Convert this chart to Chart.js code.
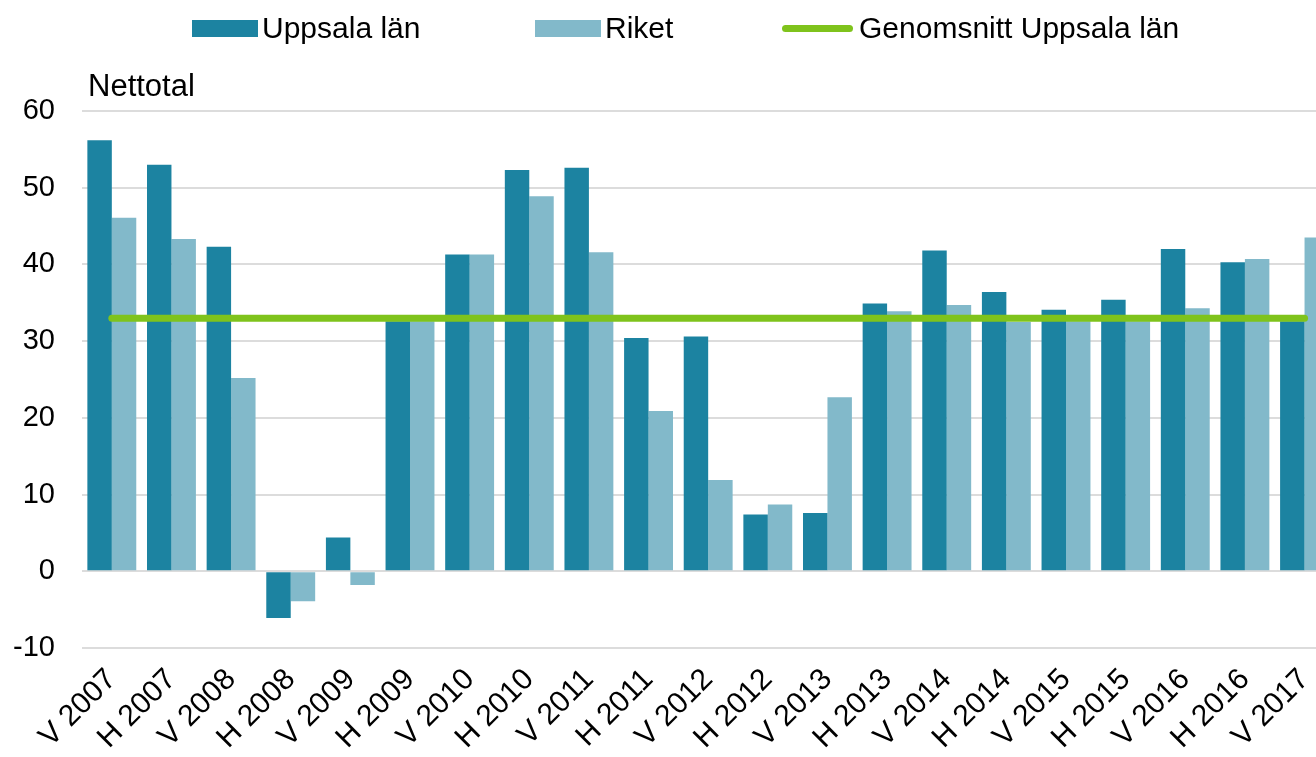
<!DOCTYPE html>
<html>
<head>
<meta charset="utf-8">
<script src="https://cdn.jsdelivr.net/npm/chart.js@4"></script>
<style>
  html, body { margin: 0; padding: 0; background: #fff; overflow: hidden; }
  #wrap { position: relative; width: 1336px; height: 757px; }
  #legend {
    position: absolute; top: 10px; left: 0; height: 36px; width: 1316px;
    font: 30px "Liberation Sans", Arial, sans-serif; color: #000;
  }
  .item { position: absolute; top: 0; height: 36px; display: flex; align-items: center; white-space: nowrap; }
  .swatch { width: 66px; height: 17px; margin-right: 4px; }
  .swatch.line { width: 71px; height: 7px; border-radius: 4px; margin-right: 6px; }
  #ytitle {
    position: absolute; left: 88px; top: 68px;
    font: 31px "Liberation Sans", Arial, sans-serif; color: #000;
  }
</style>
</head>
<body>
<div id="wrap">
  <canvas id="myChart" width="1336" height="757"></canvas>
  <div id="legend"></div>
  <div id="ytitle">Nettotal</div>
</div>
<script>
// halvår, vår (V) och höst (H)
const categories = ['V 2007', 'H 2007', 'V 2008', 'H 2008', 'V 2009', 'H 2009', 'V 2010',
  'H 2010', 'V 2011', 'H 2011', 'V 2012', 'H 2012', 'V 2013', 'H 2013', 'V 2014',
  'H 2014', 'V 2015', 'H 2015', 'V 2016', 'H 2016', 'V 2017'];

const uppsala = [56.2, 53.0, 42.3, -6.1, 4.4, 32.6, 41.3, 52.3, 52.6, 30.4, 30.6,
  7.4, 7.6, 34.9, 41.8, 36.4, 34.1, 35.4, 42.0, 40.3, 32.6];
const riket = [46.1, 43.3, 25.2, -3.9, -1.8, 32.6, 41.3, 48.9, 41.6, 20.9, 11.9,
  8.7, 22.7, 33.9, 34.7, 32.5, 32.6, 32.6, 34.3, 40.7, 43.5];
const genomsnittUppsala = [33, 33, 33, 33, 33, 33, 33, 33, 33, 33, 33,
  33, 33, 33, 33, 33, 33, 33, 33, 33, 33];

const yTicks = [-10, 0, 10, 20, 30, 40, 50, 60];

const fontFamily = '"Liberation Sans", Arial, sans-serif';

const ctx = document.getElementById('myChart').getContext('2d');
const chart = new Chart(ctx, {
  type: 'bar',
  data: {
    labels: categories,
    datasets: [
      {
        type: 'line',
        label: 'Genomsnitt Uppsala län',
        data: genomsnittUppsala,
        borderColor: '#7fc31c',
        backgroundColor: '#7fc31c',
        borderWidth: 7,
        borderCapStyle: 'round',
        pointRadius: 0,
        order: 0
      },
      {
        label: 'Uppsala län',
        data: uppsala,
        backgroundColor: '#1c83a1',
        categoryPercentage: 0.82,
        barPercentage: 1,
        order: 1
      },
      {
        label: 'Riket',
        data: riket,
        backgroundColor: '#82b9ca',
        categoryPercentage: 0.82,
        barPercentage: 1,
        order: 1
      }
    ]
  },
  options: {
    responsive: false,
    animation: false,
    layout: { padding: { top: 111, right: 0, bottom: 0, left: 0 } },
    plugins: {
      legend: { display: false },
      tooltip: { enabled: false }
    },
    scales: {
      x: {
        grid: { display: false },
        border: { display: false },
        ticks: {
          color: '#000',
          font: { family: fontFamily, size: 30 },
          minRotation: 45,
          maxRotation: 45,
          autoSkip: false,
          padding: 6
        },
        afterFit: (scale) => { scale.height = 109; }
      },
      y: {
        min: yTicks[0],
        max: yTicks[yTicks.length - 1],
        grid: { color: '#dcdcdc', lineWidth: 2, drawTicks: false },
        border: { display: false },
        ticks: {
          stepSize: 10,
          color: '#000',
          font: { family: fontFamily, size: 29 },
          padding: 27,
          callback: (v) => yTicks.includes(v) ? v : ''
        },
        afterFit: (scale) => { scale.width = 82; }
      }
    }
  }
});

// legend in the same order as the reference
const legendOrder = ['Uppsala län', 'Riket', 'Genomsnitt Uppsala län'];
const legendX = [192, 535, 782];
const legendEl = document.getElementById('legend');
legendOrder.forEach((name, i) => {
  const ds = chart.data.datasets.find((d) => d.label === name);
  const item = document.createElement('div');
  item.className = 'item';
  item.style.left = legendX[i] + 'px';
  const sw = document.createElement('span');
  sw.className = 'swatch' + (ds.type === 'line' ? ' line' : '');
  sw.style.background = ds.type === 'line' ? ds.borderColor : ds.backgroundColor;
  const txt = document.createElement('span');
  txt.textContent = ds.label;
  item.appendChild(sw);
  item.appendChild(txt);
  legendEl.appendChild(item);
});
</script>
</body>
</html>
